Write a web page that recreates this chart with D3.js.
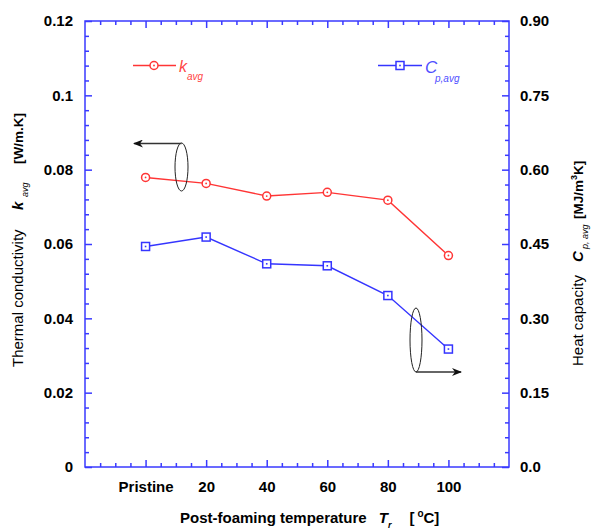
<!DOCTYPE html>
<html>
<head>
<meta charset="utf-8">
<script src="https://cdn.jsdelivr.net/npm/d3@7"></script>
<style>
  body { margin: 0; background: #fff; }
  text { font-family: Arial, "Liberation Sans", sans-serif; }
</style>
</head>
<body>
<div id="chart"></div>
<script>
// categories on the x axis (Pristine sits at 0, the rest are temperatures)
const categories = ["Pristine", "20", "40", "60", "80", "100"];
const xValues = [0, 20, 40, 60, 80, 100];

// series values
const kAvg = [0.0779, 0.0763, 0.0729, 0.0739, 0.0718, 0.0569];
const cpAvg = [0.445, 0.464, 0.410, 0.406, 0.346, 0.238];

// tick values and labels
const leftTicks = [0, 0.02, 0.04, 0.06, 0.08, 0.1, 0.12];
const leftLabels = ["0", "0.02", "0.04", "0.06", "0.08", "0.1", "0.12"];
const rightTicks = [0, 0.15, 0.30, 0.45, 0.60, 0.75, 0.90];
const rightLabels = ["0.0", "0.15", "0.30", "0.45", "0.60", "0.75", "0.90"];

const width = 592;
const height = 530;
const margin = { top: 21, right: 83, bottom: 63, left: 85 };

const axisColor = "#3a3aff";
const red = "#ff3535";
const blue = "#3535ff";

const svg = d3.select("#chart")
  .append("svg")
  .attr("width", width)
  .attr("height", height);

const x = d3.scaleLinear()
  .domain([-20, 120])
  .range([margin.left, width - margin.right]);

const yLeft = d3.scaleLinear()
  .domain([0, 0.12])
  .range([height - margin.bottom, margin.top]);

const yRight = d3.scaleLinear()
  .domain([0, 0.9])
  .range([height - margin.bottom, margin.top]);

const x0 = margin.left, x1 = width - margin.right;
const y0 = height - margin.bottom, y1 = margin.top;

// minor tick positions
const xMinor = d3.range(-15, 120, 5).filter(v => !xValues.includes(v));
const leftMinor = d3.range(0, 0.1201, 0.004).filter((v, i) => i % 5 !== 0);
const rightMinor = d3.range(0, 0.901, 0.03).filter((v, i) => i % 5 !== 0);

function styleAxis(g) {
  g.select(".domain").remove();
  g.selectAll(".tick line").attr("stroke", axisColor).attr("stroke-width", 1.5);
  g.selectAll(".tick text")
    .attr("fill", "#000")
    .style("font-size", "15px")
    .style("font-weight", "bold");
}

// bottom axis
svg.append("g")
  .attr("transform", `translate(0, ${y0})`)
  .call(d3.axisBottom(x).tickValues(xValues).tickSize(-7).tickPadding(14)
    .tickFormat((d, i) => categories[i]))
  .call(styleAxis);
svg.append("g")
  .attr("transform", `translate(0, ${y0})`)
  .call(d3.axisBottom(x).tickValues(xMinor).tickSize(-4).tickFormat(""))
  .call(styleAxis);

// top axis
svg.append("g")
  .attr("transform", `translate(0, ${y1})`)
  .call(d3.axisTop(x).tickValues(xValues).tickSize(-7).tickFormat(""))
  .call(styleAxis);
svg.append("g")
  .attr("transform", `translate(0, ${y1})`)
  .call(d3.axisTop(x).tickValues(xMinor).tickSize(-4).tickFormat(""))
  .call(styleAxis);

// left axis
svg.append("g")
  .attr("transform", `translate(${x0}, 0)`)
  .call(d3.axisLeft(yLeft).tickValues(leftTicks).tickSize(-7).tickPadding(12)
    .tickFormat((d, i) => leftLabels[i]))
  .call(styleAxis);
svg.append("g")
  .attr("transform", `translate(${x0}, 0)`)
  .call(d3.axisLeft(yLeft).tickValues(leftMinor).tickSize(-4).tickFormat(""))
  .call(styleAxis);

// right axis
svg.append("g")
  .attr("transform", `translate(${x1}, 0)`)
  .call(d3.axisRight(yRight).tickValues(rightTicks).tickSize(-7).tickPadding(11)
    .tickFormat((d, i) => rightLabels[i]))
  .call(styleAxis);
svg.append("g")
  .attr("transform", `translate(${x1}, 0)`)
  .call(d3.axisRight(yRight).tickValues(rightMinor).tickSize(-4).tickFormat(""))
  .call(styleAxis);

// frame
svg.append("rect")
  .attr("x", x0).attr("y", y1)
  .attr("width", x1 - x0).attr("height", y0 - y1)
  .attr("fill", "none")
  .attr("stroke", axisColor)
  .attr("stroke-width", 1.5);

// series lines
const kLine = d3.line().x((d, i) => x(xValues[i])).y(d => yLeft(d));
const cLine = d3.line().x((d, i) => x(xValues[i])).y(d => yRight(d));

svg.append("path").datum(kAvg)
  .attr("d", kLine).attr("fill", "none")
  .attr("stroke", red).attr("stroke-width", 1.4);
svg.append("path").datum(cpAvg)
  .attr("d", cLine).attr("fill", "none")
  .attr("stroke", blue).attr("stroke-width", 1.4);

function circleMarker(g, cx, cy) {
  g.append("circle").attr("cx", cx).attr("cy", cy).attr("r", 4)
    .attr("fill", "#fff").attr("stroke", red).attr("stroke-width", 1.5);
  g.append("circle").attr("cx", cx).attr("cy", cy).attr("r", 0.9).attr("fill", red);
}
function squareMarker(g, cx, cy) {
  g.append("rect").attr("x", cx - 4).attr("y", cy - 4).attr("width", 8).attr("height", 8)
    .attr("fill", "#fff").attr("stroke", blue).attr("stroke-width", 1.5);
  g.append("rect").attr("x", cx - 0.8).attr("y", cy - 0.8).attr("width", 1.6).attr("height", 1.6)
    .attr("fill", blue);
}

const markers = svg.append("g");
kAvg.forEach((d, i) => circleMarker(markers, x(xValues[i]), yLeft(d)));
cpAvg.forEach((d, i) => squareMarker(markers, x(xValues[i]), yRight(d)));

// legend
const legend = svg.append("g");
legend.append("line").attr("x1", 133).attr("x2", 176).attr("y1", 65.5).attr("y2", 65.5)
  .attr("stroke", red).attr("stroke-width", 1.4);
circleMarker(legend, 154, 65.5);
legend.append("text").attr("x", 179).attr("y", 72)
  .attr("fill", "#ff4545").style("font-size", "16px").style("font-style", "italic")
  .text("k");
legend.append("text").attr("x", 187).attr("y", 80)
  .attr("fill", "#ff4545").style("font-size", "10px").style("font-style", "italic")
  .text("avg");

legend.append("line").attr("x1", 378).attr("x2", 422).attr("y1", 65.5).attr("y2", 65.5)
  .attr("stroke", blue).attr("stroke-width", 1.4);
squareMarker(legend, 400, 65.5);
legend.append("text").attr("x", 425).attr("y", 73)
  .attr("fill", "#5050ff").style("font-size", "17px").style("font-style", "italic")
  .text("C");
legend.append("text").attr("x", 435).attr("y", 81.5)
  .attr("fill", "#5050ff").style("font-size", "10px").style("font-style", "italic")
  .text("p,avg");

// x axis title
const xt = svg.append("text")
  .attr("x", 180).attr("y", 523)
  .attr("fill", "#000")
  .style("font-size", "15px").style("font-weight", "bold");
xt.append("tspan").text("Post-foaming temperature");
xt.append("tspan").attr("dx", 12).style("font-style", "italic").text("T");
xt.append("tspan").attr("dy", 5).style("font-size", "9px").style("font-style", "italic").text("r");
xt.append("tspan").attr("dx", 18).attr("dy", -5).text("[");
xt.append("tspan").attr("dx", 3).attr("dy", -6).style("font-size", "10px").text("o");
xt.append("tspan").attr("dy", 6).text("C]");

// rotated text helper: (sx, sy) is the screen point where the text starts
function vText(sx, sy, str, size, weight, style) {
  return svg.append("text")
    .attr("transform", `translate(${sx}, ${sy}) rotate(-90)`)
    .attr("fill", "#000")
    .style("font-size", size + "px")
    .style("font-weight", weight || "normal")
    .style("font-style", style || "normal")
    .text(str);
}

// left axis title
vText(23, 367, "Thermal conductivity", 15);
vText(23, 210, "k", 15, "bold", "italic");
vText(28, 197, "avg", 9, "normal", "italic");
vText(23, 164, "[W/m.K]", 13.5, "bold");

// right axis title
vText(583, 366, "Heat capacity", 15);
vText(583, 262, "C", 15, "bold", "italic");
vText(588, 249, "p, avg", 9, "normal", "italic");
const rt = vText(583, 219, "", 13.5, "bold");
rt.append("tspan").text("[MJ/m");
rt.append("tspan").attr("dy", -6).style("font-size", "9px").text("3");
rt.append("tspan").attr("dy", 6).text("K]");

// annotation arrows
const defs = svg.append("defs");
defs.append("marker")
  .attr("id", "arrow")
  .attr("viewBox", "0 0 10 8")
  .attr("refX", 9).attr("refY", 4)
  .attr("markerWidth", 10).attr("markerHeight", 8)
  .attr("markerUnits", "userSpaceOnUse")
  .attr("orient", "auto")
  .append("path")
  .attr("d", "M0,0 L10,4 L0,8 L3,4 Z")
  .attr("fill", "#111");

const notes = svg.append("g");
notes.append("ellipse").attr("cx", 181.5).attr("cy", 167).attr("rx", 6.5).attr("ry", 24)
  .attr("fill", "none").attr("stroke", "#222").attr("stroke-width", 1);
notes.append("line").attr("x1", 181.5).attr("y1", 143.5).attr("x2", 134).attr("y2", 143.5)
  .attr("stroke", "#333").attr("stroke-width", 1.5).attr("marker-end", "url(#arrow)");

notes.append("ellipse").attr("cx", 416).attr("cy", 340).attr("rx", 6).attr("ry", 32)
  .attr("fill", "none").attr("stroke", "#222").attr("stroke-width", 1);
notes.append("line").attr("x1", 416).attr("y1", 372).attr("x2", 461).attr("y2", 372)
  .attr("stroke", "#333").attr("stroke-width", 1.5).attr("marker-end", "url(#arrow)");
</script>
</body>
</html>
